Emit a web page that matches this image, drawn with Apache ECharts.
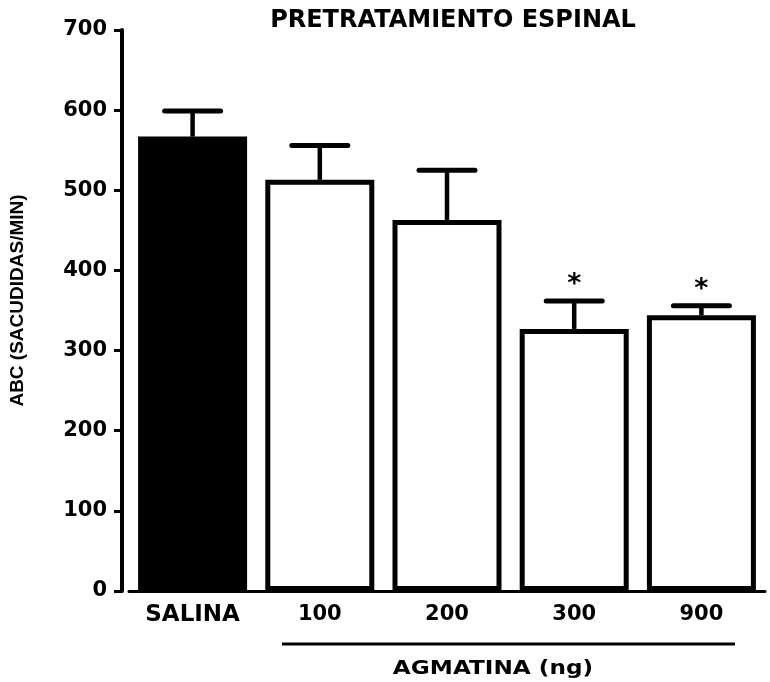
<!DOCTYPE html>
<html>
<head>
<meta charset="utf-8">
<script src="https://cdn.jsdelivr.net/npm/echarts@6/dist/echarts.min.js"></script>
<style>html,body{margin:0;padding:0;background:#fff}#c{width:770px;height:682px}</style>
</head>
<body>
<div id="c"></div>
<script>
const categories = ['SALINA', '100', '200', '300', '900'];
const means = [567, 513, 463, 327, 344];
const errors = [32, 43, 62, 35, 12];
const significant = [false, false, false, true, true];
const yTicks = [0, 100, 200, 300, 400, 500, 600, 700];
const barColors = ['#000000', '#ffffff', '#ffffff', '#ffffff', '#ffffff'];

const FONT = '"DejaVu Sans", "Liberation Sans", Arial, sans-serif';
const chart = echarts.init(document.getElementById('c'));

const errData = means.map((m, i) => [i, m, m + errors[i], significant[i] ? 1 : 0]);

chart.setOption({
  animation: false,
  backgroundColor: '#fff',
  title: {
    text: 'PRETRATAMIENTO ESPINAL',
    left: 448, top: 4, textAlign: 'center',
    textStyle: { fontFamily: FONT, fontWeight: 'bold', fontSize: 24, color: '#000' }
  },
  grid: { left: 124, right: 5, top: 30, bottom: 91 },
  xAxis: {
    type: 'category',
    data: categories,
    axisLine: { lineStyle: { color: '#000', width: 3 } },
    axisTick: { show: false },
    axisLabel: {
      interval: 0,
      color: '#000', fontFamily: FONT, fontWeight: 'bold', fontSize: 21, margin: 13,
      formatter: function (v) { return /^\d+$/.test(v) ? v : '{w|' + v + '}'; },
      rich: { w: { fontFamily: FONT, fontWeight: 'bold', fontSize: 23, color: '#000' } }
    }
  },
  yAxis: {
    type: 'value',
    min: yTicks[0], max: yTicks[yTicks.length - 1], interval: 100,
    offset: 7,
    name: 'ABC (SACUDIDAS/MIN)',
    nameLocation: 'middle', nameRotate: 90, nameGap: 95,
    nameTextStyle: { color: '#000', fontFamily: '"Liberation Sans", Arial, sans-serif', fontWeight: 'bold', fontSize: 19, padding: [0, 0, 0, 20] },
    axisLine: { show: true, lineStyle: { color: '#000', width: 4 } },
    axisTick: { show: true, length: 8, lineStyle: { color: '#000', width: 3 } },
    axisLabel: { color: '#000', fontFamily: FONT, fontWeight: 'bold', fontSize: 21, margin: 15 },
    splitLine: { show: false }
  },
  series: [
    {
      type: 'bar',
      data: means.map((m, i) => ({ value: m, itemStyle: { color: barColors[i] } })),
      barWidth: 109,
      itemStyle: { borderColor: '#000', borderWidth: 5 },
      z: 2
    },
    {
      type: 'custom',
      data: errData,
      z: 3,
      renderItem: function (params, api) {
        const i = api.value(0);
        const lo = api.coord([i, api.value(1)]);
        const hi = api.coord([i, api.value(2)]);
        const half = 28;
        const children = [
          { type: 'line', shape: { x1: lo[0], y1: lo[1], x2: hi[0], y2: hi[1] }, style: { stroke: '#000', lineWidth: 4.5 } },
          { type: 'line', shape: { x1: hi[0] - half, y1: hi[1], x2: hi[0] + half, y2: hi[1] }, style: { stroke: '#000', lineWidth: 5, lineCap: 'round' } }
        ];
        if (api.value(3) === 1) {
          children.push({
            type: 'text',
            style: { text: '*', x: hi[0], y: hi[1] - 16, textAlign: 'center', textVerticalAlign: 'middle',
              fill: '#000', font: 'bold 27px ' + FONT }
          });
        }
        return { type: 'group', children: children };
      }
    }
  ],
  graphic: [
    { type: 'line', shape: { x1: 282, y1: 644, x2: 735, y2: 644 }, style: { stroke: '#000', lineWidth: 3 } },
    { type: 'text', x: 493, y: 669, scaleX: 1.22,
      style: { text: 'AGMATINA (ng)', x: 0, y: 0, textAlign: 'center', textVerticalAlign: 'middle', fill: '#000', font: 'bold 19px ' + FONT } }
  ]
});
</script>
</body>
</html>
